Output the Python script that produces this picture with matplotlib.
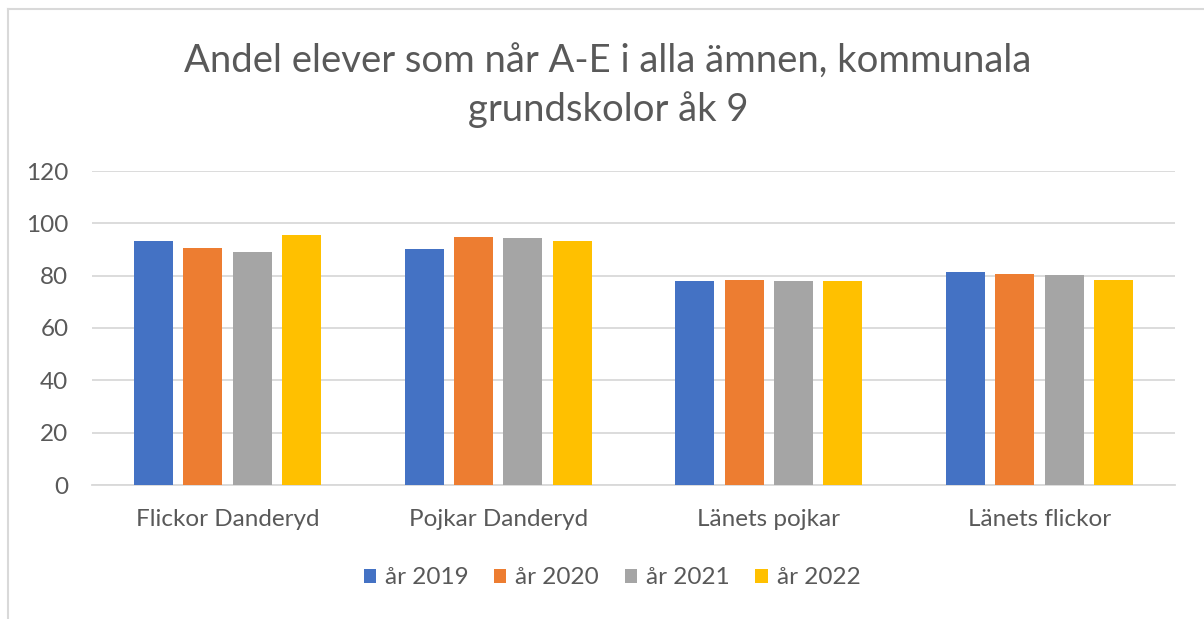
import numpy as np
import matplotlib
matplotlib.use("Agg")
import matplotlib.pyplot as plt
from matplotlib.lines import Line2D

# Data
categories = ["Flickor Danderyd", "Pojkar Danderyd", "Länets pojkar", "Länets flickor"]
series_names = ["år 2019", "år 2020", "år 2021", "år 2022"]
values_2019 = [93.2, 90.1, 78.0, 81.3]
values_2020 = [90.5, 94.9, 78.4, 80.6]
values_2021 = [89.0, 94.3, 78.0, 80.1]
values_2022 = [95.5, 93.2, 78.0, 78.4]
colors = ["#4472C4", "#ED7D31", "#A5A5A5", "#FFC000"]

plt.rcParams["font.family"] = ["Lato", "DejaVu Sans"]

W, H = 1204, 619
fig = plt.figure(figsize=(W / 100, H / 100), dpi=100)
fig.patch.set_facecolor("white")

# plot area in pixels: x 92..1175, y 171..485
left, right, top, bottom = 92, 1175, 171, 485
ax = fig.add_axes([left / W, 1 - bottom / H, (right - left) / W, (bottom - top) / H])

x = np.arange(len(categories))
slot = 0.182
width = 0.144
all_values = [values_2019, values_2020, values_2021, values_2022]
for i, (vals, name, c) in enumerate(zip(all_values, series_names, colors)):
    ax.bar(x + (i - 1.5) * slot, vals, width=width, color=c, label=name, zorder=3)

ax.set_xlim(-0.5, len(categories) - 0.5)
ax.set_ylim(0, 120)
ax.set_yticks(range(0, 121, 20))
ax.set_xticks(x)
ax.set_xticklabels(categories)
ax.grid(axis="y", color="#D9D9D9", linewidth=1.3, zorder=0)
for s in ["top", "right", "left"]:
    ax.spines[s].set_visible(False)
ax.spines["bottom"].set_color("#D9D9D9")
ax.spines["bottom"].set_linewidth(1.3)
ax.tick_params(axis="both", length=0, labelsize=17.5, colors="#595959")
ax.tick_params(axis="y", pad=17)
ax.tick_params(axis="x", pad=17)

fig.text(608 / W, 1 - 62 / H, "Andel elever som når A-E i alla ämnen, kommunala",
         ha="center", va="center", fontsize=27.5, color="#595959")
fig.text(608 / W, 1 - 110 / H, "grundskolor åk 9",
         ha="center", va="center", fontsize=27.5, color="#595959")

leg = fig.legend(*ax.get_legend_handles_labels(), loc="center", bbox_to_anchor=(612 / W, 1 - 578 / H),
                 ncol=4, frameon=False, fontsize=17.5, handlelength=0.5, handleheight=0.5,
                 handletextpad=0.38, columnspacing=1.05)
for t in leg.get_texts():
    t.set_color("#595959")

# chart border (cropped on right and bottom)
fig.add_artist(Line2D([7.5 / W, 1], [1 - 9 / H, 1 - 9 / H], color="#D9D9D9", linewidth=1.5))
fig.add_artist(Line2D([7.5 / W, 7.5 / W], [0, 1 - 9 / H], color="#D9D9D9", linewidth=1.5))

fig.savefig("out.png", dpi=100)
